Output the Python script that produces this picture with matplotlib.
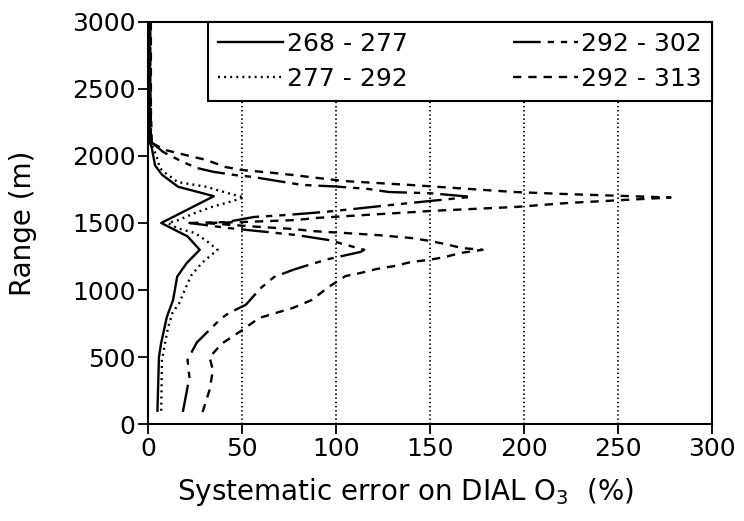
import matplotlib
matplotlib.use("Agg")
import matplotlib.pyplot as plt

plt.rcParams["font.family"] = ["DejaVu Sans"]
plt.rcParams["mathtext.fontset"] = "custom"
plt.rcParams["mathtext.rm"] = "DejaVu Sans"
plt.rcParams["mathtext.it"] = "DejaVu Sans:italic"
plt.rcParams["lines.scale_dashes"] = False

# Wavelength pairs (nm) used for the DIAL retrieval
labels = ["268 - 277", "277 - 292", "292 - 302", "292 - 313"]

# Range (m) and systematic error (%) for each wavelength pair
range_a = [100, 500, 600, 800, 925, 1100, 1200, 1300, 1400, 1500, 1600, 1700,
           1770, 1860, 1930, 2060, 2100, 2500, 3000]
err_a = [5, 5.8, 6.9, 10, 13.3, 15.5, 20.5, 27.5, 21, 7, 21, 35,
         16, 7.4, 3.7, 2, 1, 0.8, 0.8]

range_b = [100, 480, 720, 830, 900, 1000, 1110, 1200, 1250, 1300, 1360, 1425,
           1460, 1500, 1520, 1575, 1620, 1660, 1690, 1730, 1770, 1805, 1875,
           1910, 1995, 2100, 2500, 3000]
err_b = [7, 7.4, 10.6, 13, 16.5, 19.5, 23, 28.5, 32.7, 37, 31.7, 25,
         15.8, 10.6, 15.8, 25, 34, 44, 51, 40.6, 31, 15.8, 9,
         6.3, 4.6, 1.5, 1, 1]

range_c = [90, 350, 480, 610, 790, 828, 890, 1015, 1097, 1150, 1194, 1231,
           1284, 1300, 1336, 1373, 1410, 1462, 1500, 1507, 1522, 1545, 1560,
           1582, 1604, 1619, 1634, 1657, 1695, 1722, 1731, 1754, 1772, 1784,
           1806, 1843, 1858, 1881, 1910, 1955, 2030, 2100, 2500, 3000]
err_c = [18.5, 22, 21, 26, 39, 43, 52, 60, 67, 77, 87, 96,
         113, 115, 105.6, 96, 79, 43, 22, 41.7, 47.5, 56.5, 74,
         93.5, 109, 119, 129, 145, 172, 150, 128, 117, 100, 82,
         72, 56, 46, 35, 26, 18.5, 8, 2, 1.2, 1.2]

range_d = [90, 254, 403, 500, 604, 700, 791, 836, 866, 925, 1022, 1104,
           1127, 1157, 1179, 1209, 1224, 1246, 1276, 1300, 1313, 1343, 1366,
           1388, 1410, 1425, 1440, 1455, 1470, 1485, 1500, 1507, 1522, 1537,
           1552, 1567, 1582, 1590, 1620, 1650, 1690, 1716, 1731, 1784, 1813,
           1858, 1873, 1895, 1918, 1970, 2000, 2045, 2100, 2500, 3000]
err_d = [29, 32.7, 34.5, 32.7, 39.6, 50, 59, 69.7, 77, 87, 96, 105,
         113, 121.6, 131, 140, 149, 158, 166, 178, 167, 158, 150,
         140, 122, 105, 87, 77.6, 60, 45, 30, 50, 78.6, 89,
         106.6, 124, 142, 150.5, 196, 224, 278, 222, 195, 139, 104,
         77, 67, 50, 41, 31, 22, 9, 1.5, 1.5, 1.5]

x_ticks = [0, 50, 100, 150, 200, 250, 300]
y_ticks = [0, 500, 1000, 1500, 2000, 2500, 3000]

fig = plt.figure(figsize=(7.44, 5.21), dpi=100)
ax = fig.add_axes([0.199, 0.186, 0.758, 0.772])

lw = 1.7
ax.plot(err_a, range_a, color="black", lw=lw, linestyle="-", label=labels[0])
ax.plot(err_b, range_b, color="black", lw=lw, linestyle=(0, (1.4, 3.0)), label=labels[1])
ax.plot(err_c, range_c, color="black", lw=lw,
        linestyle=(0, (20, 5, 4.5, 5, 4.5, 5)), label=labels[2])
ax.plot(err_d, range_d, color="black", lw=lw, linestyle=(0, (6, 5)), label=labels[3])

ax.set_xlim(0, 300)
ax.set_ylim(0, 3000)
ax.set_xticks(x_ticks)
ax.set_yticks(y_ticks)

for gx in x_ticks[1:-1]:
    ax.axvline(gx, color="black", lw=1.3, linestyle=(0, (1, 2.0)), zorder=0.5)

for s in ax.spines.values():
    s.set_linewidth(1.5)
ax.tick_params(axis="both", direction="out", length=7, width=1.3,
               labelsize=18, pad=2)

ax.set_xlabel("Systematic error on DIAL O$_{3}$  (%)", fontsize=20)
ax.set_ylabel("Range (m)", fontsize=20)
ax.xaxis.set_label_coords(0.456, -0.13)
ax.yaxis.set_label_coords(-0.197, 0.5)

leg = ax.legend(ncol=2, loc="upper left", mode="expand",
                bbox_to_anchor=(0.106, 0.0, 0.894, 1.0), borderaxespad=0,
                fontsize=18, handlelength=2.6, handletextpad=0.15,
                labelspacing=0.45, borderpad=0.4, columnspacing=1.0,
                fancybox=False, framealpha=1, edgecolor="black")
leg.get_frame().set_linewidth(1.5)

fig.savefig("out.png", dpi=100)
